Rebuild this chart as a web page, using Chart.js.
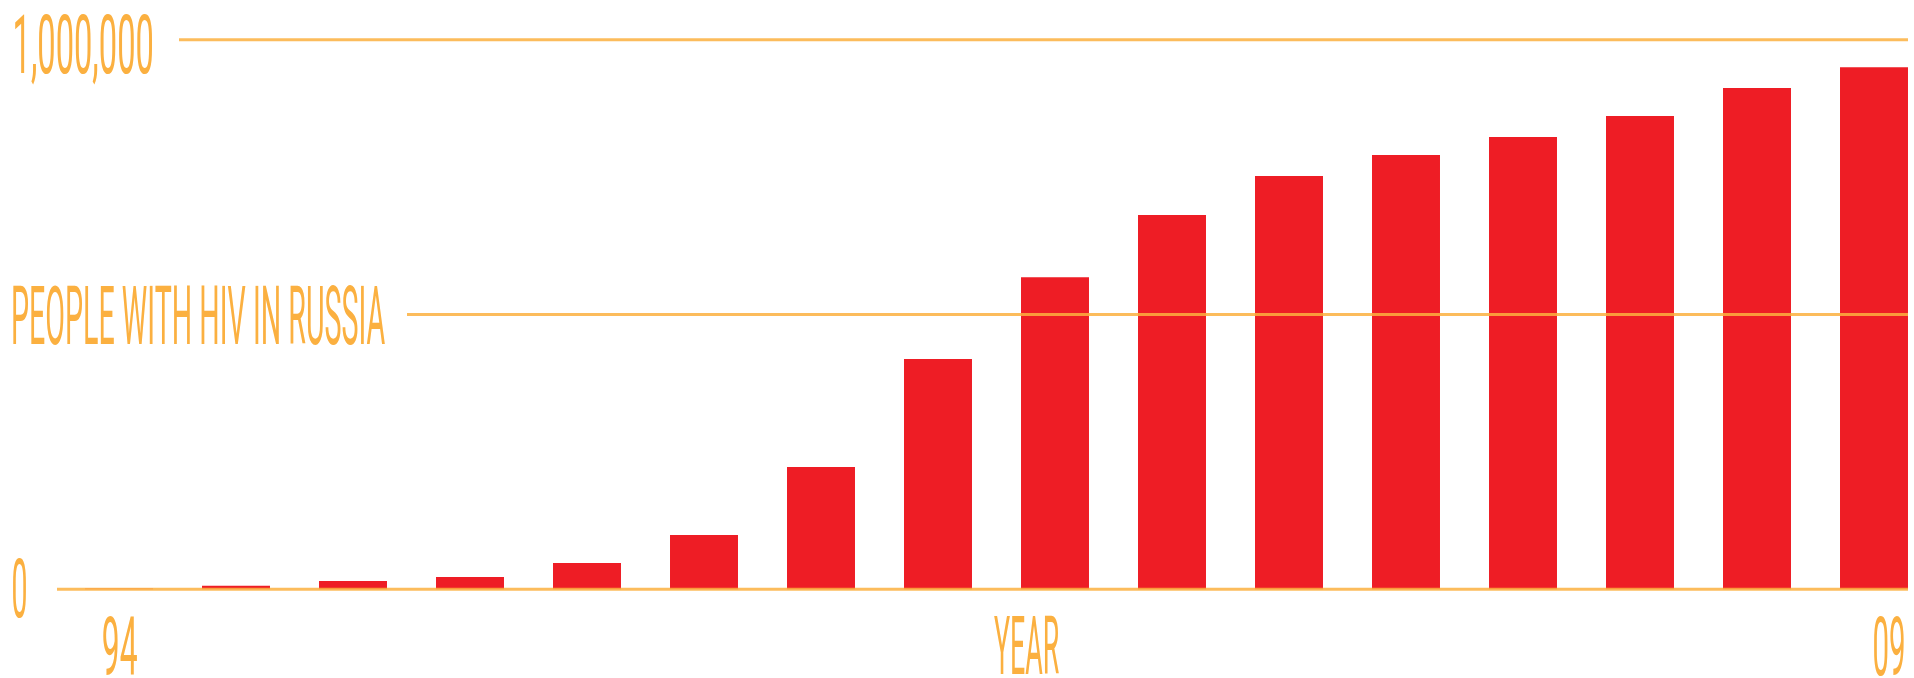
<!DOCTYPE html>
<html lang="en">

<head>
  <meta charset="UTF-8">
  <title>People with HIV in Russia</title>
  <style>
    body { margin: 0; background: #fff; }
    #box { width: 1914px; height: 678px; }
  </style>
</head>

<body>
  <div id="box"><canvas id="grafico"></canvas></div>

  <script src="https://cdn.jsdelivr.net/npm/chart.js"></script>

  <script>
    // years 1994 .. 2009
    const anos = ['94','95','96','97','98','99','00','01','02','03','04','05','06','07','08','09']

    // people living with HIV
    const pessoas = [1500, 6500, 15000, 22500, 48000, 99000, 222500, 419000,
                     568000, 681000, 752000, 790000, 823000, 861000, 912000, 950000]

    const linhasY = [0, 500000, 1000000]
    const rotuloY = ['0', 'PEOPLE WITH HIV IN RUSSIA', '1,000,000']
    const tituloX = 'YEAR'

    const laranja = '#FBB040'
    const vermelho = '#EE1D25'

    // narrow letters: draw the text squeezed so its ink spans x0..x1
    function texto(ctx, str, x0, x1, base) {
      ctx.save()
      ctx.font = '400 81px Roboto'
      ctx.fillStyle = laranja
      ctx.textAlign = 'left'
      ctx.textBaseline = 'alphabetic'
      const m = ctx.measureText(str)
      const tinta = m.actualBoundingBoxLeft + m.actualBoundingBoxRight
      ctx.translate(x0, base)
      ctx.scale((x1 - x0) / tinta, 1)
      ctx.fillText(str, m.actualBoundingBoxLeft, 0)
      ctx.restore()
    }

    const enfeites = {
      id: 'enfeites',
      afterDatasetsDraw(chart) {
        const ctx = chart.ctx
        const y = chart.scales.y
        const barras = chart.getDatasetMeta(0).data
        const ultima = barras[barras.length - 1]
        const fim = ultima.x + ultima.width / 2
        const inicio = [57, 407, 179]

        ctx.save()
        ctx.strokeStyle = 'rgba(251,176,64,0.85)'
        ctx.lineWidth = 3
        linhasY.forEach((v, i) => {
          const py = y.getPixelForValue(v)
          ctx.beginPath()
          ctx.moveTo(inicio[i], py)
          ctx.lineTo(fim, py)
          ctx.stroke()
        })
        ctx.restore()

        texto(ctx, rotuloY[0], 13, 26, 617)
        texto(ctx, rotuloY[1], 13, 385, 344)
        texto(ctx, rotuloY[2], 15, 152, 72.5)

        texto(ctx, anos[0], 103, 137, 675)
        texto(ctx, anos[anos.length - 1], 1874, 1904, 675)
        texto(ctx, tituloX, 994, 1059, 674)
      }
    }

    const grafico = new Chart(document.getElementById('grafico'), {
      type: 'bar',
      data: {
        labels: anos,
        datasets: [{
          data: pessoas,
          backgroundColor: vermelho,
          borderWidth: 0,
          barPercentage: 0.581,
          categoryPercentage: 1,
          clip: false
        }]
      },
      options: {
        responsive: true,
        maintainAspectRatio: false,
        animation: false,
        layout: { padding: { left: 119, right: 40, top: 39.7, bottom: 88.7 } },
        plugins: { legend: { display: false }, tooltip: { enabled: false } },
        scales: {
          x: { display: false, offset: false },
          y: { display: false, min: 0, max: 1000000 }
        }
      },
      plugins: [enfeites]
    })
  </script>
</body>

</html>
